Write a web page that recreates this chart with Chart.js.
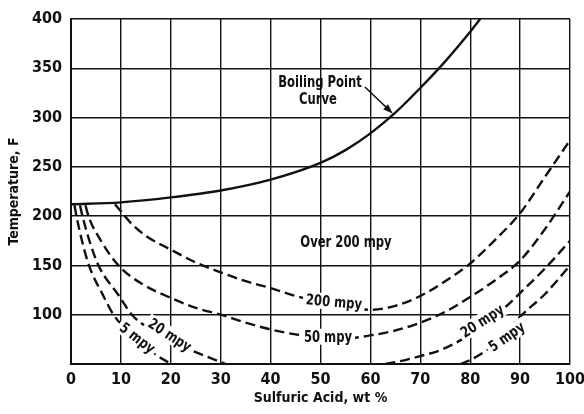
<!DOCTYPE html>
<html>
<head>
<meta charset="utf-8">
<script src="https://cdn.jsdelivr.net/npm/chart.js@4/dist/chart.umd.min.js"></script>
<style>
  html, body { margin: 0; padding: 0; background: #fff; }
  canvas { display: block; }
</style>
</head>
<body>
<canvas id="acidChart" width="584" height="414"></canvas>
<script>
// Boiling point of sulfuric acid solutions (solid line)
const boilingPct  = [0, 10, 20, 30, 40, 50, 55, 60, 65, 70, 75, 80, 82];
const boilingTemp = [212, 214, 219, 226, 237, 254, 267, 284, 305, 330, 357, 387, 400];

// Iso-corrosion lines (dashed)
const mpy200Pct  = [8.8, 10, 12, 15, 20, 25, 30, 35, 40, 45, 50, 55, 60, 65, 70, 75, 80, 85, 90, 95, 100];
const mpy200Temp = [212, 205, 193, 180, 166, 153, 143, 134, 127, 119, 113, 108, 105, 109, 119, 134, 152, 176, 203, 240, 277];

const mpy50Pct  = [2.9, 3.5, 6, 9.5, 14, 20, 25, 30, 35, 40, 45, 50, 55, 60, 65, 70, 75, 80, 85, 90, 95, 100];
const mpy50Temp = [211, 200, 175, 150, 132, 117, 107, 100, 92, 85, 80, 77, 76, 79, 84, 92, 103, 118, 135, 155, 187, 225];

const mpy20LowPct   = [1.8, 2.3, 3.7, 5.5, 9.5, 12.2, 15, 20, 25, 31];
const mpy20LowTemp  = [211, 200, 175, 150, 120, 100, 88, 73, 62, 50];
const mpy20HighPct  = [63, 67, 70, 74, 78, 82, 86, 90, 95, 100];
const mpy20HighTemp = [50, 54, 58, 64, 74, 88, 103, 122, 147, 175];

const mpy5LowPct   = [0.7, 1.1, 2.2, 3.6, 6.4, 8.5, 10.5, 13, 16, 20];
const mpy5LowTemp  = [211, 200, 175, 150, 120, 100, 88, 76, 63, 50];
const mpy5HighPct  = [78, 80, 83, 86, 90, 95, 100];
const mpy5HighTemp = [50, 54, 63, 75, 98, 121, 150];

const xTicks = [0, 10, 20, 30, 40, 50, 60, 70, 80, 90, 100];
const yTicks = [100, 150, 200, 250, 300, 350, 400];

const INK = '#111';
const FONT = "'DejaVu Sans Condensed', 'Liberation Sans Narrow', sans-serif";

const toPoints = (xs, ys) => xs.map((x, i) => ({ x: x, y: ys[i] }));

function curve(xs, ys, dashed) {
    return {
        data: toPoints(xs, ys),
        showLine: true,
        pointRadius: 0,
        borderColor: INK,
        borderWidth: dashed ? 2.4 : 2.4,
        borderDash: dashed ? [10, 5] : [],
        cubicInterpolationMode: 'monotone',
        fill: false
    };
}

// labels that sit on the curves (data coords, angle in degrees)
const curveLabels = [
    { text: 'Over 200 mpy', x: 55.1, y: 174, angle: 0, box: false },
    { text: '200 mpy', x: 52.7, y: 113, angle: 5, box: true },
    { text: '50 mpy', x: 51.5, y: 77.7, angle: 0, box: true },
    { text: '20 mpy', x: 19.8, y: 79.4, angle: 33, box: true },
    { text: '5 mpy', x: 13.3, y: 76.4, angle: 38, box: true },
    { text: '20 mpy', x: 82.4, y: 93.6, angle: -33, box: true },
    { text: '5 mpy', x: 87.3, y: 77.7, angle: -35, box: true }
];

// narrow the annotation lettering a bit
const SQUEEZE = 0.86;

function squeezedText(ctx, text, px, py, angle, box) {
    const w = ctx.measureText(text).width * SQUEEZE;
    ctx.save();
    ctx.translate(px, py);
    ctx.rotate(angle * Math.PI / 180);
    if (box) {
        ctx.fillStyle = '#fff';
        ctx.fillRect(-w / 2 - 3, -8, w + 6, 16);
    }
    ctx.scale(SQUEEZE, 1);
    ctx.fillStyle = INK;
    ctx.fillText(text, 0, 1);
    ctx.restore();
}

const curveLabelPlugin = {
    id: 'curveLabels',
    afterDatasetsDraw(chart) {
        const ctx = chart.ctx;
        const xs = chart.scales.x, ys = chart.scales.y;
        ctx.save();
        ctx.font = 'bold 15px ' + FONT;
        ctx.textAlign = 'center';
        ctx.textBaseline = 'middle';
        curveLabels.forEach(l => {
            squeezedText(ctx, l.text, xs.getPixelForValue(l.x), ys.getPixelForValue(l.y), l.angle, l.box);
        });

        // boiling point callout with arrow
        squeezedText(ctx, 'Boiling Point', xs.getPixelForValue(49.9), ys.getPixelForValue(336), 0, false);
        squeezedText(ctx, 'Curve', xs.getPixelForValue(49.5), ys.getPixelForValue(319), 0, false);
        const ax0 = xs.getPixelForValue(58.9), ay0 = ys.getPixelForValue(331);
        const ax1 = xs.getPixelForValue(64.5), ay1 = ys.getPixelForValue(304);
        const ang = Math.atan2(ay1 - ay0, ax1 - ax0);
        ctx.strokeStyle = INK;
        ctx.fillStyle = INK;
        ctx.lineWidth = 1.6;
        ctx.beginPath();
        ctx.moveTo(ax0, ay0);
        ctx.lineTo(ax1 - 6 * Math.cos(ang), ay1 - 6 * Math.sin(ang));
        ctx.stroke();
        ctx.beginPath();
        ctx.moveTo(ax1, ay1);
        ctx.lineTo(ax1 - 10 * Math.cos(ang) + 3.5 * Math.sin(ang), ay1 - 10 * Math.sin(ang) - 3.5 * Math.cos(ang));
        ctx.lineTo(ax1 - 10 * Math.cos(ang) - 3.5 * Math.sin(ang), ay1 - 10 * Math.sin(ang) + 3.5 * Math.cos(ang));
        ctx.closePath();
        ctx.fill();
        ctx.restore();
    }
};

new Chart(document.getElementById('acidChart'), {
    type: 'scatter',
    data: {
        datasets: [
            curve(boilingPct, boilingTemp, false),
            curve(mpy200Pct, mpy200Temp, true),
            curve(mpy50Pct, mpy50Temp, true),
            curve(mpy20LowPct, mpy20LowTemp, true),
            curve(mpy20HighPct, mpy20HighTemp, true),
            curve(mpy5LowPct, mpy5LowTemp, true),
            curve(mpy5HighPct, mpy5HighTemp, true)
        ]
    },
    options: {
        responsive: false,
        animation: false,
        devicePixelRatio: 1,
        layout: { padding: { top: 19, right: 14, left: 0, bottom: 0 } },
        plugins: {
            legend: { display: false },
            tooltip: { enabled: false }
        },
        scales: {
            x: {
                type: 'linear',
                min: 0,
                max: 100,
                afterBuildTicks: s => { s.ticks = xTicks.map(v => ({ value: v })); },
                afterFit: s => { s.height = 50; s.paddingLeft = 0; s.paddingRight = 0; },
                grid: { color: INK, lineWidth: 1.4, drawTicks: false },
                border: { color: INK, width: 2 },
                ticks: { color: INK, padding: 6, font: { family: FONT, size: 16, weight: 'bold' } },
                title: {
                    display: true,
                    text: 'Sulfuric Acid, wt %',
                    color: INK,
                    padding: { top: 0, bottom: 7 },
                    font: { family: FONT, size: 14, weight: 'bold' }
                }
            },
            y: {
                type: 'linear',
                min: 50,
                max: 400,
                afterBuildTicks: s => { s.ticks = [50].concat(yTicks).map(v => ({ value: v })); },
                afterFit: s => { s.width = 71; s.paddingTop = 0; s.paddingBottom = 0; },
                grid: { color: INK, lineWidth: 1.4, drawTicks: false },
                border: { color: INK, width: 2 },
                ticks: {
                    color: INK,
                    padding: 9,
                    font: { family: FONT, size: 16, weight: 'bold' },
                    callback: v => (yTicks.includes(v) ? String(v) : '')
                },
                title: {
                    display: true,
                    text: 'Temperature, F',
                    color: INK,
                    padding: { top: 6, bottom: 0 },
                    font: { family: FONT, size: 14, weight: 'bold' }
                }
            }
        }
    },
    plugins: [curveLabelPlugin]
});
</script>
</body>
</html>
